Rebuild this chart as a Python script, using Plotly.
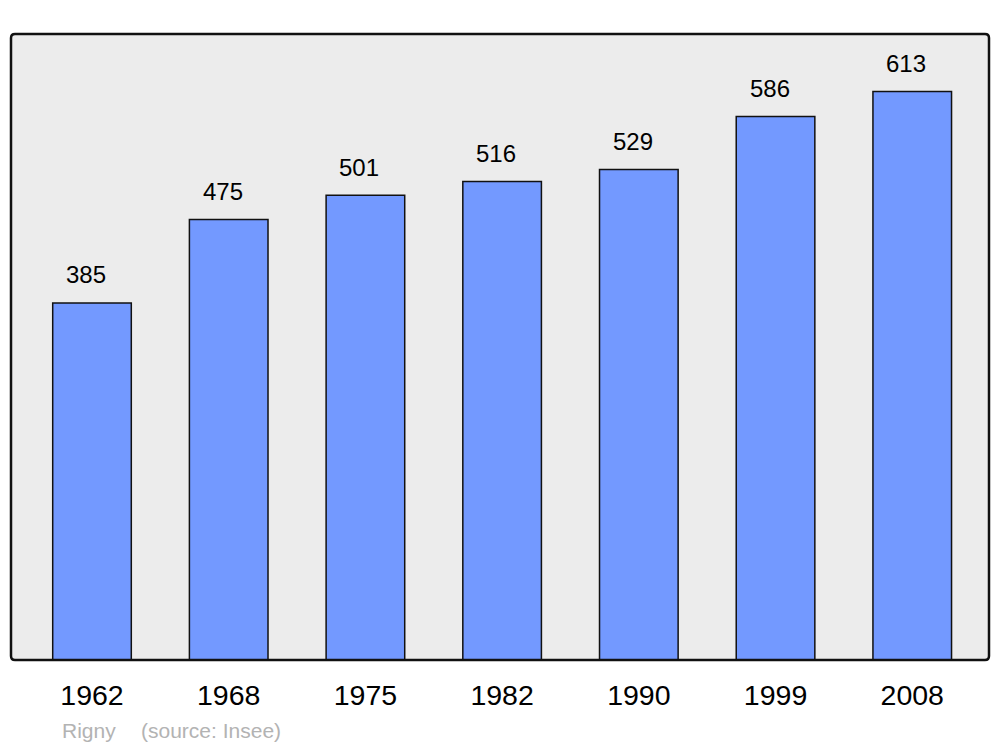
import plotly.graph_objects as go

years = ["1962", "1968", "1975", "1982", "1990", "1999", "2008"]
population = [385, 475, 501, 516, 529, 586, 613]
town = "Rigny"
source = "(source: Insee)"

OFF = 8  # page body margin
L, T = 11 - OFF, 34 - OFF
plot_w, plot_h = 978, 626
R = 3
W = L + plot_w + R
H = 747
B = H - T - plot_h

xpos = list(range(len(years)))

fig = go.Figure()
fig.add_trace(go.Bar(
    x=xpos, y=population, width=0.575,
    marker=dict(color="#7399ff", line=dict(color="#111111", width=1.5)),
    hoverinfo="skip",
))

for xi, v in zip(xpos, population):
    fig.add_annotation(x=xi, y=v, text=str(v), showarrow=False,
                       xref="x", yref="y", yanchor="middle", xshift=-6, yshift=28,
                       font=dict(family="Liberation Sans, Arial", size=24, color="#000000"))

fy = (660 - 730) / plot_h
fig.add_annotation(x=(60 - 11) / plot_w, y=fy, xref="paper", yref="paper",
                   text=town, showarrow=False, xanchor="left", yanchor="middle",
                   font=dict(family="Liberation Sans, Arial", size=21, color="#b3b3b3"))
fig.add_annotation(x=(139 - 11) / plot_w, y=fy, xref="paper", yref="paper",
                   text=source, showarrow=False, xanchor="left", yanchor="middle",
                   font=dict(family="Liberation Sans, Arial", size=21, color="#b3b3b3"))

# rounded frame around plot area
rx, ry = 4 / plot_w, 4 / plot_h
path = (f"M {rx},0 L {1-rx},0 Q 1,0 1,{ry} L 1,{1-ry} Q 1,1 {1-rx},1 "
        f"L {rx},1 Q 0,1 0,{1-ry} L 0,{ry} Q 0,0 {rx},0 Z")
fig.add_shape(type="path", xref="paper", yref="paper", path=path,
              line=dict(color="#111111", width=2.5), layer="above")

fig.update_layout(
    width=W, height=H,
    margin=dict(l=L, r=R, t=T, b=B),
    paper_bgcolor="#ffffff",
    plot_bgcolor="#ececec",
    showlegend=False,
    xaxis=dict(range=[-0.5925, 6.5615], tickvals=xpos, ticktext=years,
               showgrid=False, zeroline=False, ticks="", ticklabelstandoff=15,
               tickfont=dict(family="Liberation Sans, Arial", size=28.5, color="#000000"),
               fixedrange=True),
    yaxis=dict(range=[0, 675], showgrid=False, zeroline=False, showticklabels=False,
               ticks="", fixedrange=True),
)

fig.write_html("out.html")
